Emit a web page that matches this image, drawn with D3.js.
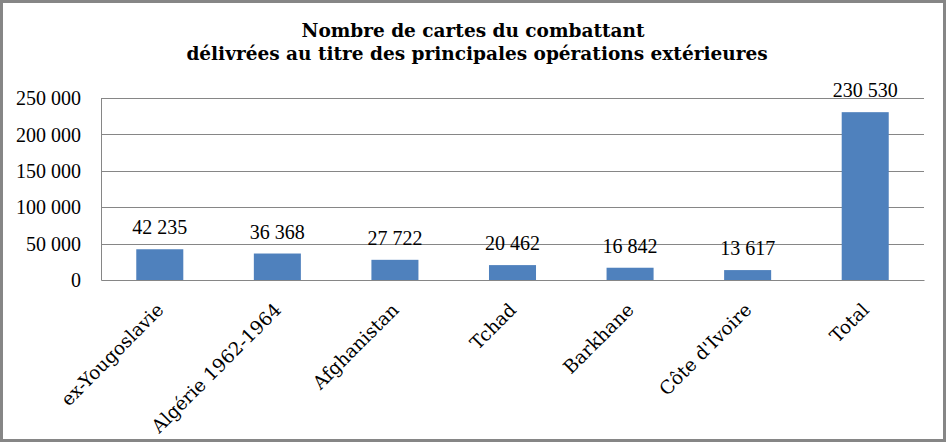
<!DOCTYPE html>
<html><head><meta charset="utf-8">
<script src="https://cdn.jsdelivr.net/npm/d3@7"></script>
<style>
body{margin:0;background:#fff;}
text{fill:#000;}
</style></head>
<body><svg id="c" width="947" height="443"></svg>
<script>
const titleLines = ["Nombre de cartes du combattant", "délivrées au titre des principales opérations extérieures"];
const categories = ["ex-Yougoslavie", "Algérie 1962-1964", "Afghanistan", "Tchad", "Barkhane", "Côte d'Ivoire", "Total"];
const values = [42235, 36368, 27722, 20462, 16842, 13617, 230530];
const yTicks = [0, 50000, 100000, 150000, 200000, 250000];

const W = 947, H = 443;
const m = {left: 101, right: 23, top: 98, bottom: 163};
const svg = d3.select("#c");
const locale = d3.formatLocale({decimal: ",", thousands: " ", grouping: [3], currency: ["", " €"]});
const fmt = locale.format(",d");
const serifNum = "Liberation Serif";
const serifTxt = "DejaVu Serif";

svg.append("rect").attr("x", 1.5).attr("y", 1.5).attr("width", W - 4).attr("height", H - 4)
  .attr("fill", "#fff").attr("stroke", "#868686").attr("stroke-width", 3);

const x = d3.scaleBand().domain(categories).range([m.left, W - m.right]).paddingInner(0.6).paddingOuter(0.3);
const y = d3.scaleLinear().domain([0, 250000]).range([H - m.bottom, m.top]);

const t = svg.append("text").attr("text-anchor", "middle").attr("font-weight", "bold")
  .attr("font-size", 18.5).attr("font-family", serifTxt);
t.append("tspan").attr("x", 473).attr("y", 37).text(titleLines[0]);
t.append("tspan").attr("x", 477).attr("y", 60).text(titleLines[1]);

// gridlines
svg.append("g").selectAll("line").data(yTicks.filter(d => d > 0)).join("line")
  .attr("x1", m.left).attr("x2", W - m.right)
  .attr("y1", d => Math.round(y(d)) + 0.5).attr("y2", d => Math.round(y(d)) + 0.5)
  .attr("stroke", "#868686").attr("stroke-width", 1);

// y axis
const ya = svg.append("g").attr("transform", `translate(${m.left},0)`)
  .call(d3.axisLeft(y).tickValues(yTicks).tickFormat(fmt).tickSize(0).tickPadding(20));
ya.select(".domain").attr("stroke", "#868686");
ya.selectAll("text").attr("font-size", 20).attr("font-family", serifNum).attr("dy", "0.33em").attr("fill", "#000");

// bars
svg.append("g").selectAll("rect").data(values).join("rect")
  .attr("x", (d, i) => x(categories[i])).attr("width", x.bandwidth())
  .attr("y", d => y(d)).attr("height", d => y(0) - y(d)).attr("fill", "#4F81BD");

// x axis
const xa = svg.append("g").attr("transform", `translate(0,${y(0)})`)
  .call(d3.axisBottom(x).tickSize(0).tickFormat(""));
xa.select(".domain").attr("stroke", "#868686");

svg.append("g").selectAll("text").data(categories).join("text")
  .attr("text-anchor", "end").attr("font-size", 18.5).attr("font-family", serifTxt)
  .attr("transform", d => `translate(${x(d) + x.bandwidth() / 2 + 5},${y(0) + 31}) rotate(-45)`)
  .text(d => d);

// value labels
svg.append("g").selectAll("text").data(values).join("text")
  .attr("text-anchor", "middle").attr("font-size", 20).attr("font-family", serifNum)
  .attr("x", (d, i) => x(categories[i]) + x.bandwidth() / 2)
  .attr("y", d => y(d) - 15)
  .text(d => fmt(d));
</script></body></html>
